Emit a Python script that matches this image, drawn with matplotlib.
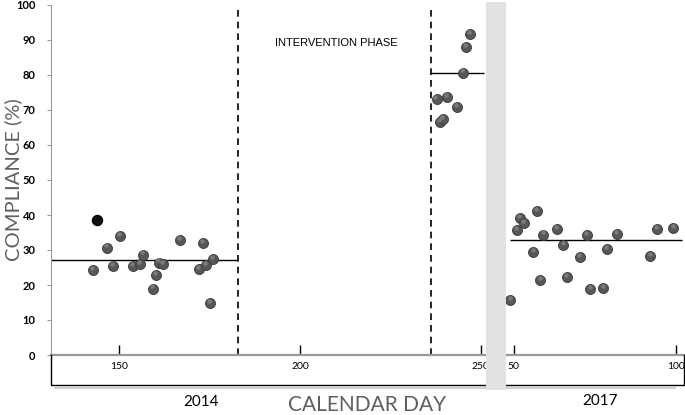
import numpy as np
import matplotlib.pyplot as plt
from matplotlib.patches import Rectangle
from matplotlib.lines import Line2D

# 2014 baseline
day_2014 = [143.7, 142.7, 146.5, 148.3, 150.1, 153.8, 155.7, 156.6, 159.3, 160.2,
            161.1, 162.2, 166.7, 172.2, 173.1, 174.1, 175.0, 175.9]
comp_2014 = [38.6, 24.3, 30.7, 25.5, 34.1, 25.4, 26.1, 28.7, 19.0, 22.9,
             26.4, 26.0, 32.8, 24.5, 32.1, 25.8, 14.9, 27.4]
# post-intervention 2014
day_post = [237.8, 238.7, 239.7, 240.7, 243.4, 245.1, 246.1, 247.0]
comp_post = [73.1, 66.6, 67.4, 73.8, 70.9, 80.7, 88.1, 91.8]
# 2017 follow-up
day_2017 = [48.9, 50.9, 51.8, 53.0, 56.0, 57.1, 58.1, 59.1, 63.2, 65.3,
            66.3, 70.4, 72.5, 73.5, 77.6, 78.6, 81.7, 92.0, 94.1, 99.2]
comp_2017 = [15.6, 35.8, 39.2, 37.6, 29.3, 41.2, 21.4, 34.4, 36.1, 31.4,
             22.4, 28.0, 34.3, 18.8, 19.2, 30.2, 34.5, 28.2, 36.1, 36.2]

mean_2014 = 27.1
mean_post = 80.6
mean_2017 = 32.9
phase_start, phase_end = 182.8, 236.2

plt.rcParams['font.family'] = ['Lato', 'DejaVu Sans']
W, H = 685, 415
fig = plt.figure(figsize=(6.85, 4.15), dpi=100)

ax1 = fig.add_axes([51 / W, 60 / H, 435 / W, 350 / H])
ax2 = fig.add_axes([506 / W, 60 / H, 178 / W, 350 / H])
ax1.set_xlim(131.1, 251.5)
ax2.set_xlim(47.6, 102.5)

dot = dict(marker='o', ms=7.2, mfc='#575757', mec='#383838', mew=0.6, ls='none', zorder=4)
shine = dict(marker='o', ms=3.2, mfc='#8a8a8a', mec='none', ls='none', zorder=5, alpha=0.7)

for ax in (ax1, ax2):
    ax.set_ylim(0, 100)
    ax.set_facecolor('none')
    for s in ('top', 'right', 'left'):
        ax.spines[s].set_visible(False)
    ax.spines['bottom'].set_color('#9a9a9a')
    ax.spines['bottom'].set_linewidth(1.6)
    ax.tick_params(axis='x', direction='in', length=7, width=1, color='black',
                   labelsize=7.5, pad=5)

ax1.spines['left'].set_visible(True)
ax1.spines['left'].set_color('#9a9a9a')
ax1.set_yticks(np.arange(0, 101, 10))
ax1.tick_params(axis='y', direction='out', length=3, color='#9a9a9a', labelsize=8, pad=8)
for lab in ax1.get_yticklabels():
    lab.set_fontweight('bold')
ax2.set_yticks([])

ax1.set_xticks([150, 200, 250])
ax2.set_xticks([50, 100])


def spheres(ax, x, y):
    ax.plot(x, y, **dot)
    ax.plot(np.array(x) - 0.25 * np.diff(ax.get_xlim())[0] / 100, np.array(y) + 0.6, **shine)


spheres(ax1, day_2014[1:], comp_2014[1:])
ax1.plot(day_2014[:1], comp_2014[:1], marker='o', ms=7.2, mfc='#111111', mec='#000000',
         ls='none', zorder=4)
spheres(ax1, day_post, comp_post)
spheres(ax2, day_2017, comp_2017)

ax1.hlines(mean_2014, 131.1, phase_start, color='black', lw=1)
ax1.hlines(mean_post, phase_end, 250.9, color='black', lw=1)
ax2.hlines(mean_2017, 48.9, 101.8, color='black', lw=1)
ax1.vlines([phase_start, phase_end], 0, 99.3, color='black', lw=1.2, linestyles=(0, (4, 3)))
ax1.text((phase_start + phase_end) / 2 + 0.5, 89, 'INTERVENTION PHASE', ha='center', va='center',
         fontsize=8, family='Liberation Sans')

# box under the axis
fig.add_artist(Line2D([51 / W, 51 / W, 684 / W, 684 / W], [60 / H, 30 / H, 30 / H, 60 / H],
                      color='black', lw=1))
fig.add_artist(Line2D([55 / W, 675 / W], [27.5 / H, 27.5 / H], color='#c8c8c8', lw=1.2))
fig.add_artist(Rectangle((486 / W, 25 / H), 20 / W, 388 / H, facecolor='#e2e2e2',
                         edgecolor='none', zorder=5))

fig.text(13 / W, 1 - 180 / H, 'COMPLIANCE (%)', rotation=90, ha='center', va='center',
         fontsize=14.5, color='#5f5f5f')
fig.text(367 / W, 1 - 405 / H, 'CALENDAR DAY', ha='center', va='center',
         fontsize=15, color='#5f5f5f')
fig.text(201 / W, 1 - 402 / H, '2014', ha='center', va='center', fontsize=11)
fig.text(600 / W, 1 - 401 / H, '2017', ha='center', va='center', fontsize=11)

plt.savefig('out.png', dpi=100)
